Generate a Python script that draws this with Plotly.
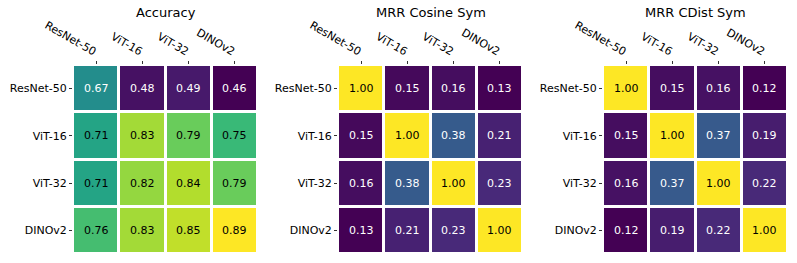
import plotly.graph_objects as go
from plotly.colors import sample_colorscale

models = ["ResNet-50", "ViT-16", "ViT-32", "DINOv2"]
titles = ["Accuracy", "MRR Cosine Sym", "MRR CDist Sym"]

accuracy = [
    [0.67, 0.48, 0.49, 0.46],
    [0.71, 0.83, 0.79, 0.75],
    [0.71, 0.82, 0.84, 0.79],
    [0.76, 0.83, 0.85, 0.89],
]
mrr_cosine = [
    [1.00, 0.15, 0.16, 0.13],
    [0.15, 1.00, 0.38, 0.21],
    [0.16, 0.38, 1.00, 0.23],
    [0.13, 0.21, 0.23, 1.00],
]
mrr_cdist = [
    [1.00, 0.15, 0.16, 0.12],
    [0.15, 1.00, 0.37, 0.19],
    [0.16, 0.37, 1.00, 0.22],
    [0.12, 0.19, 0.22, 1.00],
]
matrices = [accuracy, mrr_cosine, mrr_cdist]

FONT = "DejaVu Sans"
W, H = 797, 263
x_domains = [(73 / W, 258 / W), (338 / W, 523 / W), (603 / W, 788 / W)]
y_domain = ((263 - 254) / H, (263 - 65) / H)


def lum(rgbstr):
    vals = rgbstr[rgbstr.index("(") + 1:rgbstr.index(")")].split(",")
    out = []
    for v in vals[:3]:
        c = float(v) / 255
        c = c / 12.92 if c <= 0.03928 else ((c + 0.055) / 1.055) ** 2.4
        out.append(c)
    return 0.2126 * out[0] + 0.7152 * out[1] + 0.0722 * out[2]


fig = go.Figure()
annotations = []
for i, (mat, title) in enumerate(zip(matrices, titles)):
    n = i + 1
    xa = "x" if n == 1 else f"x{n}"
    ya = "y" if n == 1 else f"y{n}"
    flat = [v for row in mat for v in row]
    zmin, zmax = min(flat), max(flat)
    fig.add_trace(go.Heatmap(
        z=mat, x=models, y=models, colorscale="Viridis",
        zmin=zmin, zmax=zmax, showscale=False,
        xgap=3, ygap=3, xaxis=xa, yaxis=ya, hoverinfo="skip",
    ))
    for r, row in enumerate(mat):
        for c, v in enumerate(row):
            col = sample_colorscale("Viridis", [(v - zmin) / (zmax - zmin)])[0]
            tc = "black" if lum(col) > 0.25 else "white"
            annotations.append(dict(
                x=models[c], y=models[r], xref=xa, yref=ya,
                text=f"{v:.2f}", showarrow=False,
                font=dict(family=FONT, size=11, color=tc),
            ))
    annotations.append(dict(
        x=(x_domains[i][0] + x_domains[i][1]) / 2, y=1 - 13 / H,
        xref="paper", yref="paper", text=title, showarrow=False,
        xanchor="center", yanchor="middle",
        font=dict(family=FONT, size=13, color="black"),
    ))
    axkey_x = "xaxis" if n == 1 else f"xaxis{n}"
    axkey_y = "yaxis" if n == 1 else f"yaxis{n}"
    fig.update_layout(**{
        axkey_x: dict(
            domain=list(x_domains[i]), anchor=ya, side="top",
            tickangle=30, ticks="outside", ticklen=3, tickwidth=0.8,
            tickcolor="#333", showgrid=False, zeroline=False,
            showline=False, type="category", automargin=False,
            tickfont=dict(family=FONT, size=11, color="black"),
        ),
        axkey_y: dict(
            domain=list(y_domain), anchor=xa, autorange="reversed",
            ticks="outside", ticklen=3, tickwidth=0.8, tickcolor="#333",
            showgrid=False, zeroline=False, showline=False, type="category",
            automargin=False,
            tickfont=dict(family=FONT, size=11, color="black"),
        ),
    })

fig.update_layout(
    width=W, height=H, margin=dict(l=0, r=0, t=0, b=0),
    paper_bgcolor="white", plot_bgcolor="white",
    annotations=annotations, showlegend=False,
)
fig.write_html(
    "out.html",
    config={"displayModeBar": False},
    post_script="document.body.style.margin='0';",
)
